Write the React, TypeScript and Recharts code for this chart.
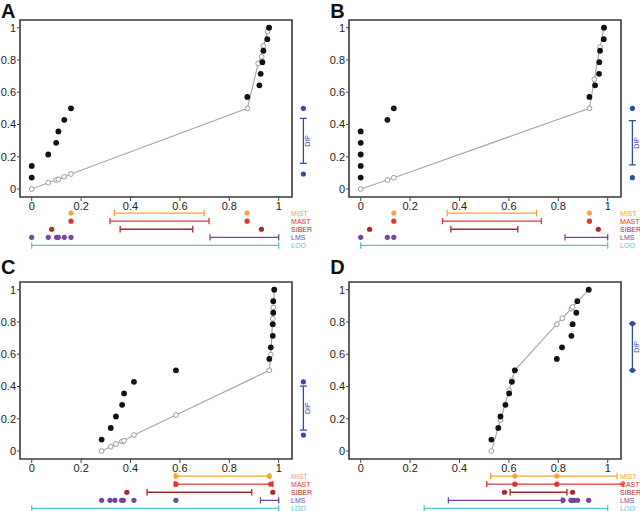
import React from 'react'
import { ScatterChart, Scatter, XAxis, YAxis, ReferenceArea } from 'recharts'

// shared scales / labels
const X_TICKS = [0, 0.2, 0.4, 0.6, 0.8, 1]
const Y_TICKS = [0, 0.2, 0.4, 0.6, 0.8, 1]
const ECDF_Y = [0.071, 0.143, 0.214, 0.286, 0.357, 0.429, 0.5, 0.571, 0.643, 0.714, 0.786, 0.857, 0.929, 1]
const METHODS = ['MIST', 'MAST', 'SIBER', 'LMS', 'LOO']
const METHOD_COLORS = ['#f4a53a', '#e5322e', '#a52a2c', '#7246a0', '#4cc8d8']
const DIP_COLOR = '#2f4ea2'

// panel A
const aDotsX = [0, 0, 0.067, 0.099, 0.108, 0.132, 0.159, 0.873, 0.922, 0.927, 0.934, 0.938, 0.954, 0.961]
const aFitX = [0, 0.067, 0.099, 0.108, 0.132, 0.159, 0.873, 0.917, 0.931, 0.938, 0.955, 0.961]
const aFitY = [0, 0.039, 0.056, 0.06, 0.076, 0.093, 0.5, 0.779, 0.82, 0.887, 0.975, 1]
const aDipDots = [0.093, 0.5]
const aDipBar = [0.159, 0.438]
const aRowDots = [[0.159, 0.872], [0.159, 0.872], [0.081, 0.93], [0, 0.067, 0.101, 0.108, 0.132, 0.159], []]
const aRowBars = [[0.335, 0.698], [0.317, 0.718], [0.358, 0.652], [0.722, 1], [0, 1]]

// panel B
const bDotsX = [0, 0, 0, 0, 0, 0.108, 0.134, 0.926, 0.949, 0.965, 0.966, 0.969, 0.984, 0.985]
const bFitX = [0, 0.108, 0.134, 0.926, 0.946, 0.969, 0.985]
const bFitY = [0, 0.056, 0.07, 0.5, 0.68, 0.88, 1]
const bDipDots = [0.07, 0.5]
const bDipBar = [0.149, 0.424]
const bRowDots = [[0.134, 0.926], [0.134, 0.926], [0.036, 0.962], [0, 0.108, 0.134], []]
const bRowBars = [[0.35, 0.712], [0.331, 0.731], [0.365, 0.636], [0.827, 1], [0, 1]]

// panel C
const cDotsX = [0.283, 0.32, 0.341, 0.366, 0.374, 0.414, 0.584, 0.962, 0.968, 0.976, 0.976, 0.978, 0.978, 0.982]
const cFitX = [0.283, 0.32, 0.341, 0.366, 0.374, 0.414, 0.584, 0.962, 0.968, 0.976, 0.978, 0.982]
const cFitY = [0, 0.027, 0.043, 0.06, 0.064, 0.099, 0.223, 0.5, 0.598, 0.82, 0.89, 1]
const cDipDots = [0.099, 0.429]
const cDipBar = [0.13, 0.402]
const cRowDots = [[0.584, 0.962], [0.584, 0.968], [0.385, 0.976], [0.283, 0.317, 0.337, 0.364, 0.371, 0.414, 0.584], []]
const cRowBars = [[0.58, 0.965], [0.578, 0.976], [0.467, 0.891], [0.926, 1], [0, 1]]

// panel D
const dDotsX = [0.529, 0.557, 0.566, 0.586, 0.601, 0.612, 0.624, 0.794, 0.815, 0.853, 0.858, 0.873, 0.877, 0.923]
const dFitX = [0.529, 0.566, 0.601, 0.612, 0.624, 0.794, 0.816, 0.853, 0.858, 0.923]
const dFitY = [0, 0.192, 0.377, 0.44, 0.5, 0.786, 0.823, 0.882, 0.893, 1]
const dDipDots = [0.5, 0.79]
const dDipBar = [0.5, 0.79]
const dRowDots = [[0.624, 0.794], [0.624, 0.794], [0.582, 0.858], [0.819, 0.851, 0.858, 0.865, 0.878, 0.923], []]
const dRowBars = [[0.526, 1.038], [0.51, 1.062], [0.605, 0.835], [0.355, 0.815], [0.257, 1]]

const X_MIN = -0.0474
const X_MAX = 1.15
const BOX_RIGHT = 1.0538
const Y_MIN = -0.0496
const Y_MAX = 1.0477
const DIP_X = 1.1
const LABEL_X = 1.05

const FONT = '"Liberation Sans", Arial, Helvetica, sans-serif'

const BlackDot = (p: any) => <circle cx={p.cx} cy={p.cy} r={2.9} fill="#111" />
const OpenDot = (p: any) => <circle cx={p.cx} cy={p.cy} r={2.4} fill="#fff" stroke="#9c9c9c" strokeWidth={1} />
const Nothing = () => <g />
const colorDot = (c: string) => (p: any) => <circle cx={p.cx} cy={p.cy} r={2.6} fill={c} />
const vCap = (c: string) => (p: any) => <line x1={p.cx} x2={p.cx} y1={p.cy - 3.2} y2={p.cy + 3.2} stroke={c} strokeWidth={1.3} />
const hCap = (c: string) => (p: any) => <line x1={p.cx - 3.5} x2={p.cx + 3.5} y1={p.cy} y2={p.cy} stroke={c} strokeWidth={1.3} />

function Panel({ ox, oy, letter, dotsX, fitX, fitY, dipDots, dipBar, rowDots, rowBars }: any) {
  const black = dotsX.map((x: number, i: number) => ({ x, y: ECDF_Y[i] }))
  const fit = fitX.map((x: number, i: number) => ({ x, y: fitY[i] }))
  const dipPts = dipDots.map((y: number) => ({ x: DIP_X, y }))
  const dipBarPts = dipBar.map((y: number) => ({ x: DIP_X, y }))
  const dipLabel = [{ x: DIP_X + 0.018, y: (dipBar[0] + dipBar[1]) / 2 }]
  const labels = METHODS.map((name, i) => ({ x: LABEL_X, y: i, name }))

  return (
    <div style={{ position: 'absolute', left: ox, top: oy, width: 320, height: 250 }}>
      <div style={{ position: 'absolute', left: 1, top: oy === 0 ? 1 : -5, fontSize: 20, fontWeight: 700, lineHeight: '20px', fontFamily: FONT, color: '#111' }}>
        {letter}
      </div>
      <div style={{ position: 'absolute', left: 0, top: 0 }}>
        <ScatterChart width={320} height={218} margin={{ top: 20, right: 4.25, left: 0, bottom: 0 }}>
          <XAxis
            type="number" dataKey="x" domain={[X_MIN, X_MAX]} allowDataOverflow
            ticks={X_TICKS} interval={0} axisLine={false}
            tickLine={{ stroke: '#444' }} tickSize={4} tickMargin={1} height={21}
            tick={{ fontSize: 11, fill: '#222', fontFamily: FONT }}
          />
          <YAxis
            type="number" dataKey="y" domain={[Y_MIN, Y_MAX]} allowDataOverflow
            ticks={Y_TICKS} interval={0} axisLine={false}
            tickLine={{ stroke: '#444' }} tickSize={3} tickMargin={1} width={20}
            tick={{ fontSize: 11, fill: '#222', fontFamily: FONT }}
          />
          <ReferenceArea x1={X_MIN} x2={BOX_RIGHT} y1={Y_MIN} y2={Y_MAX} fill="none" stroke="#3a3a3a" strokeWidth={1.6} ifOverflow="visible" />
          <Scatter data={fit} line={{ stroke: '#a9a9a9', strokeWidth: 1.2 }} shape={Nothing} isAnimationActive={false} />
          <Scatter data={fit} shape={OpenDot} isAnimationActive={false} />
          <Scatter data={black} shape={BlackDot} isAnimationActive={false} />
          <Scatter data={dipBarPts} line={{ stroke: DIP_COLOR, strokeWidth: 1.3 }} shape={hCap(DIP_COLOR)} isAnimationActive={false} />
          <Scatter data={dipPts} shape={colorDot(DIP_COLOR)} isAnimationActive={false} />
          <Scatter
            data={dipLabel} isAnimationActive={false}
            shape={(p: any) => (
              <text x={p.cx} y={p.cy} transform={`rotate(-90 ${p.cx} ${p.cy})`} textAnchor="middle" dy={2.4} fontSize={7} fill={DIP_COLOR} fontFamily={FONT}>DIP</text>
            )}
          />
        </ScatterChart>
      </div>
      <div style={{ position: 'absolute', left: 0, top: 209.25 }}>
        <ScatterChart width={320} height={40.5} margin={{ top: 0, right: 4.25, left: 20, bottom: 0 }}>
          <XAxis type="number" dataKey="x" domain={[X_MIN, X_MAX]} allowDataOverflow hide />
          <YAxis type="number" dataKey="y" domain={[-0.5, 4.5]} allowDataOverflow reversed hide />
          {METHODS.map((m, i) => (
            <Scatter
              key={m + 'bar'}
              data={rowBars[i].map((x: number) => ({ x, y: i }))}
              line={{ stroke: METHOD_COLORS[i], strokeWidth: 1.3 }}
              shape={vCap(METHOD_COLORS[i])}
              isAnimationActive={false}
            />
          ))}
          {METHODS.map((m, i) => (
            <Scatter
              key={m + 'dots'}
              data={rowDots[i].map((x: number) => ({ x, y: i }))}
              shape={colorDot(METHOD_COLORS[i])}
              isAnimationActive={false}
            />
          ))}
          <Scatter
            data={labels} isAnimationActive={false}
            shape={(p: any) => (
              <text x={p.cx} y={p.cy} dy={2.5} fontSize={7} fill={METHOD_COLORS[p.payload.y]} fontFamily={FONT}>{p.payload.name}</text>
            )}
          />
        </ScatterChart>
      </div>
    </div>
  )
}

export default function App() {
  return (
    <div style={{ position: 'absolute', left: 0, top: 0, width: 640, height: 511, background: '#fff', overflow: 'hidden' }}>
      <Panel ox={0} oy={0} letter="A" dotsX={aDotsX} fitX={aFitX} fitY={aFitY} dipDots={aDipDots} dipBar={aDipBar} rowDots={aRowDots} rowBars={aRowBars} />
      <Panel ox={329.3} oy={0} letter="B" dotsX={bDotsX} fitX={bFitX} fitY={bFitY} dipDots={bDipDots} dipBar={bDipBar} rowDots={bRowDots} rowBars={bRowBars} />
      <Panel ox={0} oy={262.3} letter="C" dotsX={cDotsX} fitX={cFitX} fitY={cFitY} dipDots={cDipDots} dipBar={cDipBar} rowDots={cRowDots} rowBars={cRowBars} />
      <Panel ox={329.3} oy={262.3} letter="D" dotsX={dDotsX} fitX={dFitX} fitY={dFitY} dipDots={dDipDots} dipBar={dDipBar} rowDots={dRowDots} rowBars={dRowBars} />
    </div>
  )
}
